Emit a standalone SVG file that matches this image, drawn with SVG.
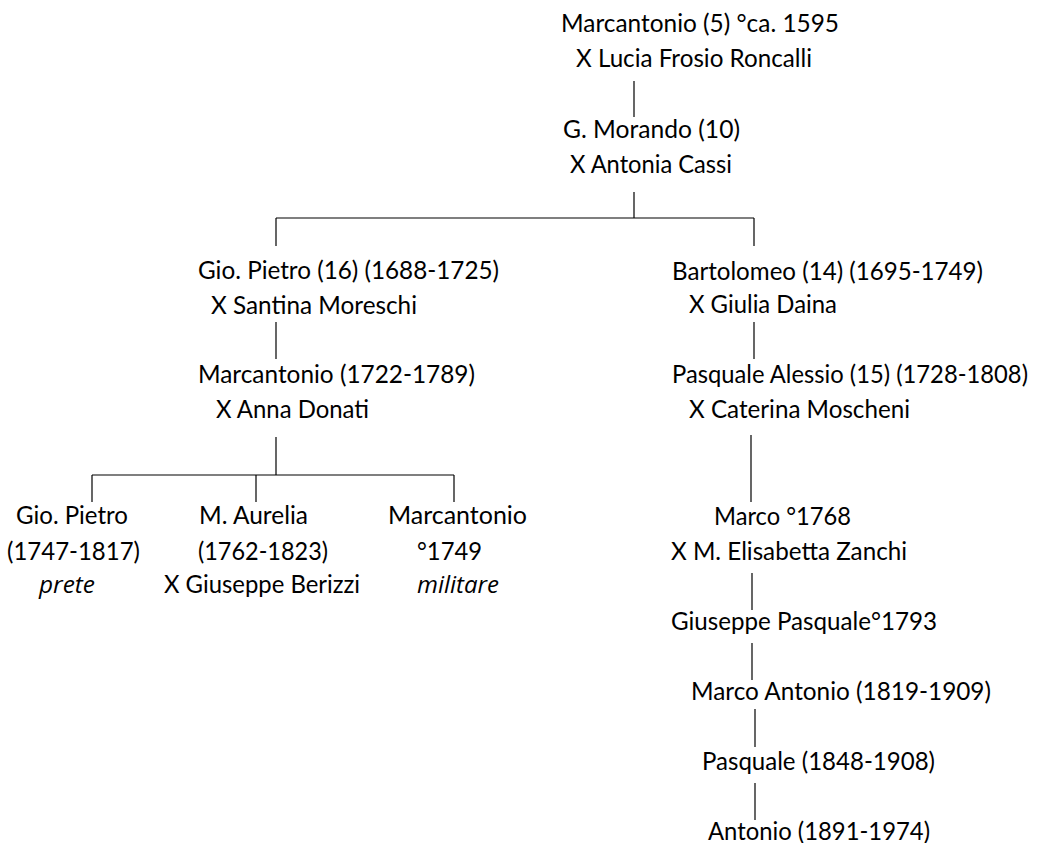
<svg xmlns="http://www.w3.org/2000/svg" width="1038" height="843" viewBox="0 0 1038 843">
  <style>
    text { font-family: Lato, "Open Sans", "Liberation Sans", sans-serif; font-size: 25px; fill: #000; }
    .it { font-family: "Open Sans", "Liberation Sans", sans-serif; font-style: italic; font-size: 23px; }
    .conn line { stroke: #000; stroke-width: 1.2; }
  </style>
  <rect width="1038" height="843" fill="#fff"/>

  <!-- connectors -->
  <g id="connectors" class="conn">
    <line x1="634" y1="81" x2="634" y2="117"/>
    <line x1="634" y1="192" x2="634" y2="218"/>
    <line x1="276" y1="218" x2="754" y2="218"/>
    <line x1="276" y1="218" x2="276" y2="246"/>
    <line x1="754" y1="218" x2="754" y2="246"/>
    <line x1="276" y1="322" x2="276" y2="359"/>
    <line x1="276" y1="437" x2="276" y2="475"/>
    <line x1="92" y1="475" x2="454" y2="475"/>
    <line x1="92" y1="475" x2="92" y2="502"/>
    <line x1="256" y1="475" x2="256" y2="502"/>
    <line x1="454" y1="475" x2="454" y2="502"/>
    <line x1="754" y1="322" x2="754" y2="359"/>
    <line x1="751" y1="435" x2="751" y2="502"/>
    <line x1="752" y1="573" x2="752" y2="610"/>
    <line x1="752" y1="643" x2="752" y2="680"/>
    <line x1="755" y1="709" x2="755" y2="747"/>
    <line x1="755" y1="783" x2="755" y2="820"/>
  </g>

  <!-- nodes -->
  <g id="marcantonio-5">
    <text x="561" y="32" textLength="278" lengthAdjust="spacingAndGlyphs">Marcantonio (5) °ca. 1595</text>
    <text x="576" y="67" textLength="236" lengthAdjust="spacingAndGlyphs">X Lucia Frosio Roncalli</text>
  </g>
  <g id="g-morando-10">
    <text x="563" y="138" textLength="177" lengthAdjust="spacingAndGlyphs">G. Morando (10)</text>
    <text x="570" y="173" textLength="162" lengthAdjust="spacingAndGlyphs">X Antonia Cassi</text>
  </g>
  <g id="gio-pietro-16">
    <text x="198" y="279" textLength="301" lengthAdjust="spacingAndGlyphs">Gio. Pietro (16) (1688-1725)</text>
    <text x="211" y="314" textLength="206" lengthAdjust="spacingAndGlyphs">X Santina Moreschi</text>
  </g>
  <g id="marcantonio-1722">
    <text x="198" y="383" textLength="277" lengthAdjust="spacingAndGlyphs">Marcantonio (1722-1789)</text>
    <text x="216" y="418" textLength="153" lengthAdjust="spacingAndGlyphs">X Anna Donati</text>
  </g>
  <g id="gio-pietro-1747">
    <text x="16" y="524" textLength="112" lengthAdjust="spacingAndGlyphs">Gio. Pietro</text>
    <text x="7" y="560" textLength="133" lengthAdjust="spacingAndGlyphs">(1747-1817)</text>
    <text class="it" x="39" y="593" textLength="56" lengthAdjust="spacingAndGlyphs">prete</text>
  </g>
  <g id="m-aurelia">
    <text x="199" y="524" textLength="109" lengthAdjust="spacingAndGlyphs">M. Aurelia</text>
    <text x="198" y="560" textLength="130" lengthAdjust="spacingAndGlyphs">(1762-1823)</text>
    <text x="164" y="593" textLength="196" lengthAdjust="spacingAndGlyphs">X Giuseppe Berizzi</text>
  </g>
  <g id="marcantonio-1749">
    <text x="388" y="524" textLength="139" lengthAdjust="spacingAndGlyphs">Marcantonio</text>
    <text x="417" y="560" textLength="65" lengthAdjust="spacingAndGlyphs">°1749</text>
    <text class="it" x="417" y="593" textLength="82" lengthAdjust="spacingAndGlyphs">militare</text>
  </g>
  <g id="bartolomeo-14">
    <text x="672" y="280" textLength="311" lengthAdjust="spacingAndGlyphs">Bartolomeo (14) (1695-1749)</text>
    <text x="689" y="313" textLength="148" lengthAdjust="spacingAndGlyphs">X Giulia Daina</text>
  </g>
  <g id="pasquale-alessio-15">
    <text x="672" y="383" font-size="24" textLength="356" lengthAdjust="spacingAndGlyphs">Pasquale Alessio (15) (1728-1808)</text>
    <text x="689" y="418" textLength="221" lengthAdjust="spacingAndGlyphs">X Caterina Moscheni</text>
  </g>
  <g id="marco-1768">
    <text x="714" y="525" textLength="137" lengthAdjust="spacingAndGlyphs">Marco °1768</text>
    <text x="671" y="560" textLength="236" lengthAdjust="spacingAndGlyphs">X M. Elisabetta Zanchi</text>
  </g>
  <g id="giuseppe-pasquale">
    <text x="671" y="630" textLength="266" lengthAdjust="spacingAndGlyphs">Giuseppe Pasquale°1793</text>
  </g>
  <g id="marco-antonio">
    <text x="691" y="700" textLength="300" lengthAdjust="spacingAndGlyphs">Marco Antonio (1819-1909)</text>
  </g>
  <g id="pasquale-1848">
    <text x="702" y="770" textLength="233" lengthAdjust="spacingAndGlyphs">Pasquale (1848-1908)</text>
  </g>
  <g id="antonio-1891">
    <text x="708" y="840" textLength="222" lengthAdjust="spacingAndGlyphs">Antonio (1891-1974)</text>
  </g>
</svg>
